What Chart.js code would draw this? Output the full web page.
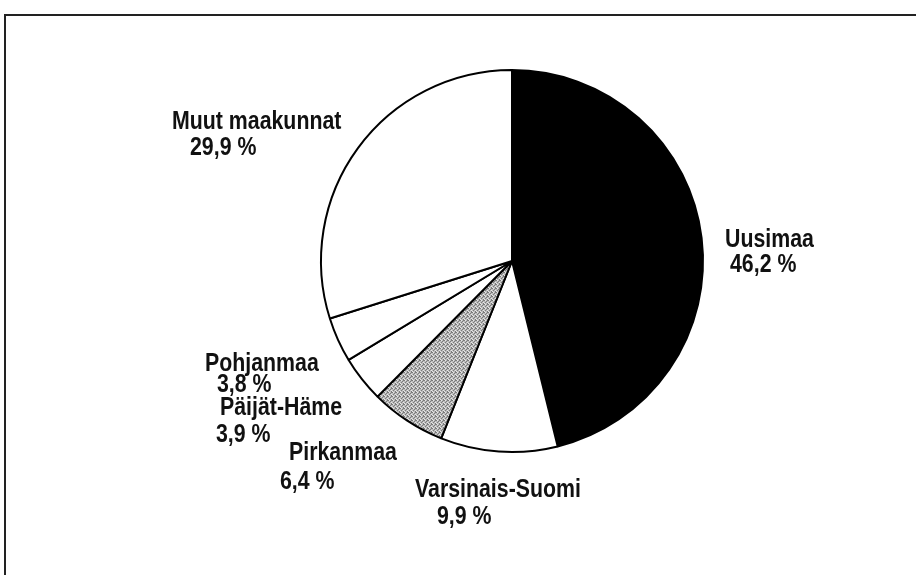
<!DOCTYPE html>
<html lang="fi">
<head>
  <meta charset="UTF-8">
  <title>Maakunnat</title>
  <script src="https://cdn.jsdelivr.net/npm/chart.js"></script>
  <style>
    html, body {
      margin: 0;
      padding: 0;
      background: #fff;
    }
    .wrap {
      position: relative;
      width: 916px;
      height: 575px;
      overflow: hidden;
    }
    .kehys {
      position: absolute;
      left: 4px;
      top: 14px;
      width: 1000px;
      height: 700px;
      border-left: 2px solid #222;
      border-top: 2px solid #222;
    }
    canvas {
      position: absolute;
      left: 0;
      top: 0;
    }
  </style>
</head>
<body>
  <div class="wrap">
    <div class="kehys"></div>
    <canvas id="piirakka" width="916" height="575"></canvas>
  </div>

  <script>
    // data
    const alueet = ['Uusimaa', 'Varsinais-Suomi', 'Pirkanmaa', 'Päijät-Häme', 'Pohjanmaa', 'Muut maakunnat'];
    const osuudet = [46.2, 9.9, 6.4, 3.9, 3.8, 29.9];

    // tekstien paikat (vasen reuna, rivin keskikohta)
    const nimiPaikat = [[725, 240], [415, 490], [289, 453], [220, 408], [205, 364], [172, 122]];
    const prosPaikat = [[730, 265], [437, 517], [280, 482], [216, 435], [217, 385], [190, 148]];

    // harmaa pisterasteri Pirkanmaalle
    function rasteri() {
      const c = document.createElement('canvas');
      c.width = 4; c.height = 4;
      const g = c.getContext('2d');
      g.fillStyle = '#bcbcbc';
      g.fillRect(0, 0, 4, 4);
      g.fillStyle = '#7a7a7a';
      [[0,0],[2,1],[1,2],[3,3],[3,0]].forEach(p => g.fillRect(p[0], p[1], 1, 1));
      g.fillStyle = '#e6e6e6';
      [[1,0],[3,2],[0,3]].forEach(p => g.fillRect(p[0], p[1], 1, 1));
      return g.createPattern(c, 'repeat');
    }

    const ctx = document.getElementById('piirakka').getContext('2d');
    const varit = ['#000000', '#ffffff', rasteri(), '#ffffff', '#ffffff', '#ffffff'];

    // kapea lihavoitu teksti: Liberation Sans kavennettuna vaakasuunnassa
    const kavennus = 0.82;
    function kirjoita(c, teksti, x, y) {
      c.save();
      c.translate(x, y);
      c.scale(kavennus, 1);
      c.fillText(teksti, 0, 0);
      c.restore();
    }

    const tekstit = {
      id: 'tekstit',
      afterDraw(chart) {
        const c = chart.ctx;
        c.save();
        c.fillStyle = '#111';
        c.textAlign = 'left';
        c.textBaseline = 'middle';
        c.font = "bold 26px 'Liberation Sans', Arial, sans-serif";
        alueet.forEach((nimi, i) => {
          kirjoita(c, nimi, nimiPaikat[i][0], nimiPaikat[i][1]);
          const pros = osuudet[i].toFixed(1).replace('.', ',') + ' %';
          kirjoita(c, pros, prosPaikat[i][0], prosPaikat[i][1]);
        });
        c.restore();
      }
    };

    new Chart(ctx, {
      type: 'pie',
      data: {
        labels: alueet,
        datasets: [{
          data: osuudet,
          backgroundColor: varit,
          borderColor: '#000',
          borderWidth: 2,
          radius: 191
        }]
      },
      options: {
        responsive: false,
        animation: false,
        layout: { padding: { left: 108, right: 0, top: 0, bottom: 53 } },
        plugins: {
          legend: { display: false },
          tooltip: { enabled: false },
          title: { display: false }
        }
      },
      plugins: [tekstit]
    });
  </script>
</body>
</html>
